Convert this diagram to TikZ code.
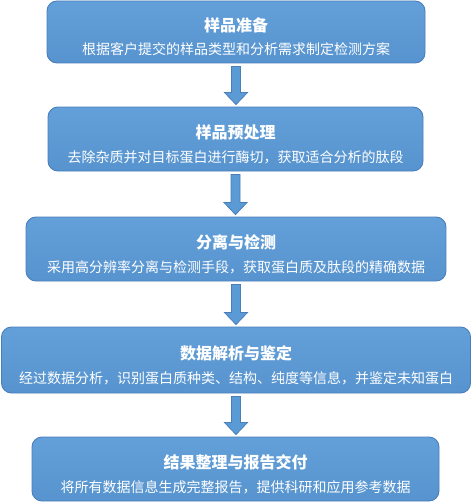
\documentclass[tikz,border=0pt]{standalone}
\usepackage{fontspec}
\newfontfamily\cjk{Noto Sans CJK SC}
\usetikzlibrary{calc}
\definecolor{boxblue}{HTML}{5B9BD5}
\definecolor{boxtop}{HTML}{639FD8}
\definecolor{boxbot}{HTML}{5794CF}
\definecolor{boxline}{HTML}{4A7EBB}
\tikzset{
  box/.style={draw=boxline, line width=0.9pt, rounded corners=10pt, top color=boxtop, bottom color=boxbot, inner sep=0pt},
  ttl/.style={text=white, font=\cjk\bfseries\fontsize{16pt}{18pt}\selectfont, inner sep=0pt},
  sub/.style={text=white, font=\cjk\fontsize{14pt}{16pt}\selectfont, inner sep=0pt},
  blockarrow/.style={draw=boxline, line width=0.8pt, fill=boxblue, line join=miter}
}
\newcommand\flowarrow[2]{%
  \path let \p1=(#1.south), \p2=(#2.north) in
    [blockarrow] (\x1-4.5pt,\y1-3pt) -- (\x1+4.5pt,\y1-3pt) -- (\x1+4.5pt,\y2+14pt)
    -- (\x1+11.5pt,\y2+14pt) -- (\x1,\y2+2pt) -- (\x1-11.5pt,\y2+14pt)
    -- (\x1-4.5pt,\y2+14pt) -- cycle;}
\begin{document}
\begin{tikzpicture}[x=1pt,y=-1pt]
\useasboundingbox (0,0) rectangle (472,503);
\node[box, minimum width=378pt, minimum height=62pt] (b1) at (236,32) {};
\node[box, minimum width=375pt, minimum height=64pt] (b2) at (235.5,139) {};
\node[box, minimum width=420pt, minimum height=64pt] (b3) at (236,249) {};
\node[box, minimum width=469pt, minimum height=66pt] (b4) at (236,360) {};
\node[box, minimum width=407pt, minimum height=64pt] (b5) at (235.5,469) {};

\node[ttl] (t1) at ([yshift=7pt]b1.center) {样品准备};
\node[sub] (s1) at ([yshift=-17.5pt]b1.center) {根据客户提交的样品类型和分析需求制定检测方案};
\node[ttl] (t2) at ([yshift=7pt]b2.center) {样品预处理};
\node[sub] (s2) at ([yshift=-18pt]b2.center) {去除杂质并对目标蛋白进行酶切，获取适合分析的肽段};
\node[ttl] (t3) at ([yshift=7pt]b3.center) {分离与检测};
\node[sub] (s3) at ([yshift=-18pt]b3.center) {采用高分辨率分离与检测手段，获取蛋白质及肽段的精确数据};
\node[ttl] (t4) at ([yshift=7pt]b4.center) {数据解析与鉴定};
\node[sub] (s4) at ([yshift=-18pt]b4.center) {经过数据分析，识别蛋白质种类、结构、纯度等信息，并鉴定未知蛋白};
\node[ttl] (t5) at ([yshift=7pt]b5.center) {结果整理与报告交付};
\node[sub] (s5) at ([yshift=-18pt]b5.center) {将所有数据信息生成完整报告，提供科研和应用参考数据};

\flowarrow{b1}{b2}
\flowarrow{b2}{b3}
\flowarrow{b3}{b4}
\flowarrow{b4}{b5}
\end{tikzpicture}
\end{document}
